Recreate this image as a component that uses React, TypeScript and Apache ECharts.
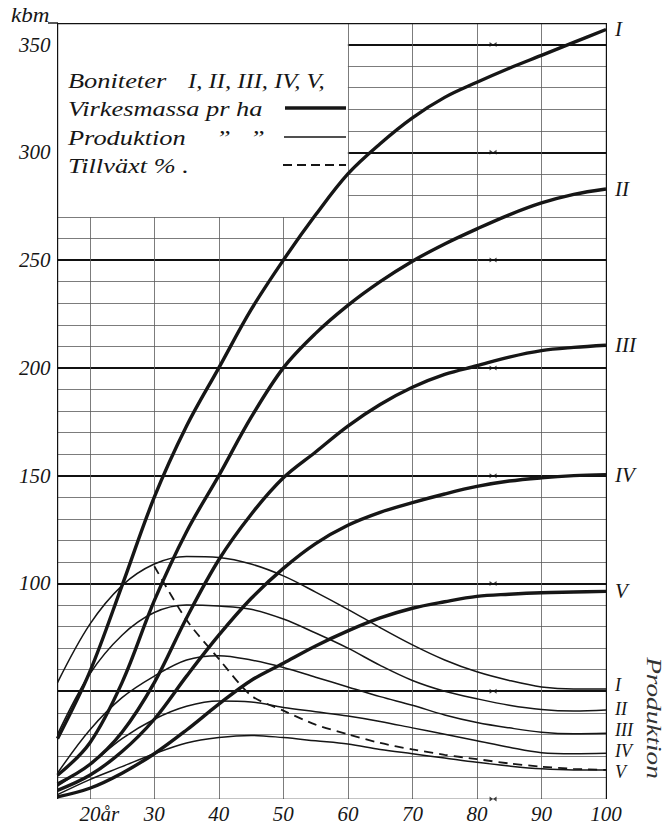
import React, { useEffect, useRef } from "react";
import * as echarts from "echarts";

// ---- data ----
const ages = [15, 20, 25, 30, 35, 40, 45, 50, 55, 60, 65, 70, 75, 80, 85, 90, 95, 100];
const numerals = ["I", "II", "III", "IV", "V"];

// Virkesmassa pr ha (kbm), thick lines
const volumeI = [28, 59, 99, 140, 173, 200, 227, 250, 271, 290, 304, 316, 325.5, 332.5, 339, 345, 351, 357];
const volumeII = [11, 26, 54, 92, 124, 150, 177, 200, 216, 229, 240, 249.5, 257.5, 264.5, 271, 276.5, 280.5, 283];
const volumeIII = [7, 16, 31, 54, 84, 111, 132, 149, 161, 173, 183, 191, 197, 201, 205, 208, 209.5, 210.5];
const volumeIV = [4, 11, 22, 37, 57, 76, 93, 107, 118.5, 127, 133, 137.5, 141.5, 145, 147.5, 149, 150, 150.5];
const volumeV = [1, 5, 12, 21, 32, 44, 55, 63, 71, 78, 84, 88.5, 91.5, 94, 95, 95.7, 96, 96.3];

// Produktion pr ha, thin lines
const prodI = [54, 81, 99, 109, 112.5, 112, 109, 103.5, 96, 88, 79.5, 71.5, 64.5, 59, 55, 52, 51, 51];
const prodII = [30, 58, 76, 86.5, 90, 89.5, 88, 83.5, 77, 70, 62, 55, 50, 46.5, 43.5, 41.5, 40.8, 41.3];
const prodIII = [12, 32, 47, 57, 64.5, 66.5, 64.5, 61, 56.5, 52, 47.5, 43.5, 39, 35.5, 33, 31, 30.3, 30.5];
const prodIV = [6, 16, 28, 37, 43, 45.5, 45, 42.5, 40.5, 38.5, 36, 33, 30, 27, 24, 21.5, 21, 21.2];
const prodV = [2, 9, 15, 21, 26, 28.5, 29.5, 28.5, 27, 25.5, 23, 21, 19, 17, 15.3, 14, 13.5, 13.5];

// Tillväxt %, dashed line
const growthAges = [30, 35, 40, 45, 50, 55, 60, 65, 70, 75, 80, 85, 90, 95, 100];
const growthPct = [108, 83, 65, 48, 41, 34.5, 30, 26, 23, 20.5, 18.5, 16.5, 15, 14, 13.5];

// axis ticks / labels
const xLabelValues = [20, 30, 40, 50, 60, 70, 80, 90, 100];
const yLabelValues = [100, 150, 200, 250, 300, 350];
const crossMarkAge = 82.5;
const crossMarkValues = [0, 50, 100, 150, 200, 250, 300, 350];

// ---- styling ----
const FONT = "Liberation Serif";
const INK = "#161616";
const X_MIN = 15;
const X_MAX = 100;
const Y_MAX = 360;
const LEGEND_AGE_END = 60;
const LEGEND_VALUE_START = 270;
const PROD_LABEL_SHIFT = [-4, -1, -3, -2, 2];

function buildGrid() {
  const data: any[] = [];
  for (let v = 10; v <= 350; v += 10) {
    const major = v % 50 === 0;
    const x0 = v > LEGEND_VALUE_START ? LEGEND_AGE_END : X_MIN;
    data.push({
      coords: [[x0, v], [X_MAX, v]],
      lineStyle: { width: major ? 1.8 : 0.8, color: major ? "#111" : "#5a5a5a", opacity: 1 },
    });
  }
  for (let a = 20; a <= 90; a += 10) {
    const top = a < LEGEND_AGE_END ? LEGEND_VALUE_START : Y_MAX;
    data.push({ coords: [[a, 0], [a, top]], lineStyle: { width: 0.8, color: "#5a5a5a", opacity: 1 } });
  }
  const border = { width: 1.4, color: "#111", opacity: 1 };
  data.push({ coords: [[X_MIN, 0], [X_MIN, Y_MAX]], lineStyle: border });
  data.push({ coords: [[X_MAX, 0], [X_MAX, Y_MAX]], lineStyle: border });
  data.push({ coords: [[X_MIN, 0], [X_MAX, 0]], lineStyle: border });
  data.push({ coords: [[X_MIN, Y_MAX], [X_MAX, Y_MAX]], lineStyle: border });
  return data;
}

const labelStyle = {
  fontFamily: FONT,
  fontStyle: "italic" as const,
  color: INK,
};

const italicRich = {
  it: { fontFamily: FONT, fontStyle: "italic", fontSize: 21, color: INK },
  pad: { width: 19, fontSize: 21 },
};

function curve(
  name: string,
  numeral: string,
  values: number[],
  xs: number[],
  kind: "vol" | "prod" | "growth",
  shift = 0
) {
  return {
    name,
    type: "line",
    data: xs.map((a, i) => [a, values[i]]),
    showSymbol: false,
    smooth: kind === "growth" ? 0.25 : 0.35,
    z: kind === "vol" ? 4 : 3,
    silent: true,
    lineStyle: {
      color: INK,
      width: kind === "vol" ? 3.4 : kind === "prod" ? 1.5 : 1.8,
      type: kind === "growth" ? [9, 6] : "solid",
    },
    endLabel:
      kind === "growth"
        ? { show: false }
        : {
            show: true,
            formatter: numeral,
            distance: 9,
            offset: [0, shift],
            fontSize: kind === "vol" ? 21 : 18,
            lineHeight: kind === "vol" ? 21 : 18,
            ...labelStyle,
          },
  };
}

function txt(text: string, x: number, y: number, size: number, extra: any = {}) {
  return {
    type: "text",
    x,
    y,
    scaleX: extra.scaleX ?? 1.2,
    rotation: extra.rotation ?? 0,
    style: {
      text,
      fontFamily: FONT,
      fontStyle: "italic",
      fontSize: size,
      fill: extra.fill ?? INK,
      align: extra.align ?? "left",
      verticalAlign: "middle",
    },
  };
}

export default function App() {
  const ref = useRef<HTMLDivElement>(null);

  useEffect(() => {
    if (!ref.current) return;
    const chart = echarts.init(ref.current, null, { renderer: "svg" });

    const volumes = [volumeI, volumeII, volumeIII, volumeIV, volumeV];
    const prods = [prodI, prodII, prodIII, prodIV, prodV];

    const option: any = {
      animation: false,
      backgroundColor: "#ffffff",
      grid: { left: 57.5, right: 61, top: 23, bottom: 25, containLabel: false },
      xAxis: {
        type: "value",
        min: X_MIN,
        max: X_MAX,
        interval: 5,
        axisLine: { show: false },
        axisTick: { show: false },
        splitLine: { show: false },
        axisLabel: {
          margin: 4,
          fontSize: 21,
          ...labelStyle,
          formatter: (v: number) => {
            if (!xLabelValues.includes(v)) return "";
            if (v === 20) return "{pad| }{it|20år}";
            return "{it|" + v + "}";
          },
          rich: italicRich,
        },
      },
      yAxis: {
        type: "value",
        min: 0,
        max: Y_MAX,
        interval: 50,
        axisLine: { show: false },
        axisTick: { show: false },
        splitLine: { show: false },
        axisLabel: {
          margin: 7,
          fontSize: 21,
          ...labelStyle,
          formatter: (v: number) => (yLabelValues.includes(v) ? "{it|" + v + "}" : ""),
          rich: italicRich,
        },
      },
      series: [
        {
          name: "grid",
          type: "lines",
          coordinateSystem: "cartesian2d",
          polyline: false,
          silent: true,
          z: 1,
          symbol: ["none", "none"],
          data: buildGrid(),
        },
        {
          name: "marks",
          type: "scatter",
          silent: true,
          z: 2,
          symbol: "path://M0,0L10,6L10,0L0,6Z",
          symbolSize: [7, 5],
          itemStyle: { color: "#111" },
          data: crossMarkValues.map((v) => [crossMarkAge, v]),
        },
        ...volumes.map((vals, i) => curve("Virkesmassa " + numerals[i], numerals[i], vals, ages, "vol")),
        ...prods.map((vals, i) =>
          curve("Produktion " + numerals[i], numerals[i], vals, ages, "prod", PROD_LABEL_SHIFT[i])
        ),
        curve("Tillväxt %", "", growthPct, growthAges, "growth"),
      ],
      graphic: [
        txt("kbm", 11, 15, 22, { scaleX: 1.05 }),
        { type: "line", shape: { x1: 48, y1: 23, x2: 58, y2: 23 }, style: { stroke: "#111", lineWidth: 1.4 } },
        txt("Boniteter", 68, 80, 22),
        txt("I, II, III, IV, V,", 188, 80, 22, { scaleX: 1.12 }),
        txt("Virkesmassa pr ha", 68, 108, 22),
        txt("Produktion", 68, 137, 22),
        txt("\u201D", 216, 137, 22),
        txt("\u201D", 250, 137, 22),
        txt("Tillväxt % .", 68, 165, 22),
        { type: "line", shape: { x1: 285, y1: 108, x2: 346, y2: 108 }, style: { stroke: INK, lineWidth: 3.6 } },
        { type: "line", shape: { x1: 284, y1: 137, x2: 346, y2: 137 }, style: { stroke: INK, lineWidth: 1.5 } },
        {
          type: "line",
          shape: { x1: 283, y1: 165, x2: 346, y2: 165 },
          style: { stroke: INK, lineWidth: 1.8, lineDash: [9, 5] },
        },
        txt("Produktion", 655, 718, 22, { rotation: -Math.PI / 2, align: "center", scaleX: 1.24, fill: "#333" }),
      ],
    };

    chart.setOption(option);
    return () => chart.dispose();
  }, []);

  return (
    <div
      ref={ref}
      style={{ position: "absolute", left: 0, top: 0, width: 667, height: 824, background: "#fff" }}
    />
  );
}
